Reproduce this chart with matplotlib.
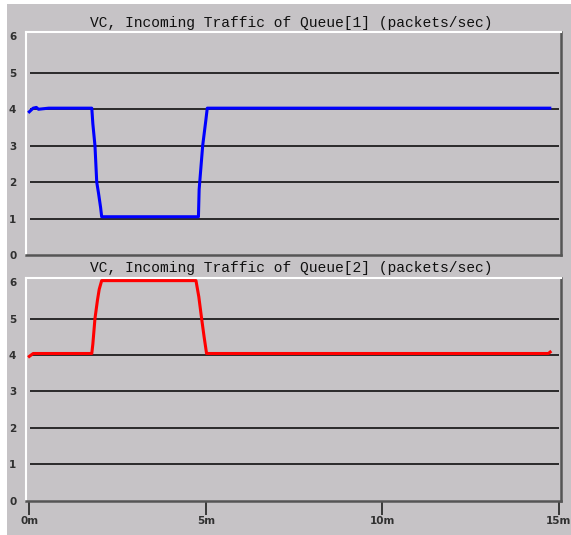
import matplotlib
matplotlib.use("Agg")
import matplotlib.pyplot as plt

# time in minutes, values in packets/sec
t_q1 = [0.0, 0.11, 0.2, 0.26, 0.55, 1.77, 1.8, 1.86, 1.91, 1.96, 2.02, 2.05,
        4.79, 4.81, 4.86, 4.91, 5.0, 5.04, 14.74]
v_q1 = [3.93, 4.03, 4.05, 4.0, 4.03, 4.03, 3.6, 3.0, 2.0, 1.7, 1.3, 1.05,
        1.05, 1.8, 2.4, 3.0, 3.7, 4.03, 4.03]

t_q2 = [0.0, 0.11, 1.77, 1.8, 1.86, 1.93, 1.98, 2.05, 4.72, 4.8, 4.88,
        4.95, 5.02, 14.7, 14.75]
v_q2 = [3.96, 4.04, 4.04, 4.3, 5.0, 5.5, 5.8, 6.04, 6.04, 5.6, 5.0,
        4.5, 4.04, 4.04, 4.08]

titles = ["VC, Incoming Traffic of Queue[1] (packets/sec)",
          "VC, Incoming Traffic of Queue[2] (packets/sec)"]
y_ticks = [0, 1, 2, 3, 4, 5, 6]
x_ticks = [0, 5, 10, 15]
x_labels = ["0m", "5m", "10m", "15m"]

W, H = 571, 535
bg = "#c6c3c6"

fig = plt.figure(figsize=(W / 100, H / 100), dpi=100, facecolor=bg)
# thin white rim on top / left
fig.patches.append(plt.Rectangle((0, 1 - 4 / H), 1, 4 / H, transform=fig.transFigure,
                                 facecolor="white", edgecolor="none"))
fig.patches.append(plt.Rectangle((0, 0), 7 / W, 1, transform=fig.transFigure,
                                 facecolor="white", edgecolor="none"))


def make_axes(top_px, bottom_px):
    ax = fig.add_axes([26 / W, (H - bottom_px) / H, 535 / W, (bottom_px - top_px) / H])
    ax.set_facecolor(bg)
    ax.set_xlim(-0.093, 15.057)
    ax.set_ylim(0, 6.12)
    for side in ["top", "left"]:
        ax.spines[side].set_color("white")
        ax.spines[side].set_linewidth(1.5)
    for side in ["bottom", "right"]:
        ax.spines[side].set_color("#555555")
        ax.spines[side].set_linewidth(1.8)
    ax.hlines([1, 2, 3, 4, 5], 0.02, 15.0, color="black", lw=1.1, zorder=1)
    ax.set_yticks(y_ticks)
    ax.set_yticklabels([str(v) for v in y_ticks], fontsize=7.5, fontweight="bold",
                       color="#303030")
    ax.tick_params(axis="y", length=0, pad=7)
    return ax


ax1 = make_axes(32, 255)
ax1.plot(t_q1, v_q1, color="#0000ff", lw=2.2, zorder=3)
ax1.set_xticks([])

ax2 = make_axes(277.7, 500.7)
ax2.plot(t_q2, v_q2, color="#ff0000", lw=2.2, zorder=3)
ax2.set_xticks(x_ticks)
ax2.set_xticklabels(x_labels, fontsize=7.5, fontweight="bold", color="#303030")
ax2.tick_params(axis="x", direction="out", length=10, width=1.2, color="#202020", pad=1)

for title, ypx in zip(titles, [23, 268]):
    fig.text(291.7 / W, 1 - ypx / H, title, ha="center", va="center",
             family="Liberation Mono", fontsize=10.5, color="#101010")

fig.savefig("out.png", dpi=100, facecolor=fig.get_facecolor())
